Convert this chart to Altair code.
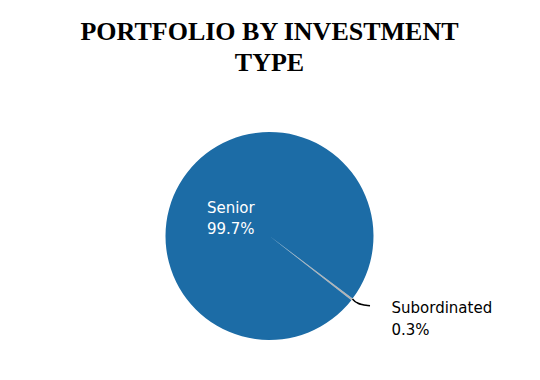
import math
import altair as alt
import pandas as pd

# ---- data ----
categories = ["Subordinated", "Senior"]
shares = [0.3, 99.7]
pct_labels = ["0.3%", "99.7%"]
slice_colors = ["#b4b4b4", "#1c6ca6"]

# leader line (annotation path, plot-area pixels)
leader_x = [344.5, 347.0, 350.0, 354.0, 358.0, 362.0]
leader_y = [191.0, 193.5, 195.2, 196.5, 197.3, 197.7]

df = pd.DataFrame({
    "category": categories,
    "value": shares,
    "pct": pct_labels,
    "order": list(range(len(categories))),
})
leader = pd.DataFrame({"x": leader_x, "y": leader_y})

W, H = 523, 256
R = 104
start = math.radians(127.0)
theta_scale = alt.Scale(domain=[0, 1], range=[start, start + 2 * math.pi])

base = alt.Chart(df).transform_joinaggregate(
    total="sum(value)"
).transform_window(
    cum="sum(value)", sort=[alt.SortField("order")]
).transform_calculate(
    t0="(datum.cum - datum.value) / datum.total",
    t1="datum.cum / datum.total",
    mid="(datum.cum - datum.value / 2) / datum.total",
    label="[datum.category, datum.pct]",
)

pie = base.mark_arc(radius=R).encode(
    theta=alt.Theta("t0:Q", scale=theta_scale),
    theta2="t1:Q",
    color=alt.Color("category:N", scale=alt.Scale(domain=categories, range=slice_colors), legend=None),
)

senior_txt = base.transform_filter(alt.datum.category == "Senior").mark_text(
    radius=31, dx=-38, dy=-9, align="left", baseline="middle", fontSize=15,
    font="DejaVu Sans", color="white", lineHeight=21,
).encode(
    theta=alt.Theta("mid:Q", scale=theta_scale),
    text="label:N",
)

sub_txt = base.transform_filter(alt.datum.category == "Subordinated").mark_text(
    radius=140, dx=11, dy=-13, align="left", baseline="middle", fontSize=15,
    font="DejaVu Sans", color="black", lineHeight=22,
).encode(
    theta=alt.Theta("mid:Q", scale=theta_scale),
    text="label:N",
)

line = alt.Chart(leader).mark_line(color="black", strokeWidth=1.6, interpolate="monotone").encode(
    x=alt.X("x:Q", scale=None, axis=None),
    y=alt.Y("y:Q", scale=None, axis=None),
)

chart = alt.layer(pie, line, senior_txt, sub_txt).properties(
    width=W,
    height=H,
    autosize=alt.AutoSizeParams(type="none"),
    padding={"left": 0, "top": 100, "right": 0, "bottom": 0},
    title=alt.TitleParams(
        ["PORTFOLIO BY INVESTMENT", "TYPE"],
        font="Liberation Serif",
        fontSize=26,
        fontWeight="bold",
        color="black",
        lineHeight=31,
        anchor="middle",
        offset=32,
    ),
).configure_view(stroke=None)

chart.save("out.html", embed_options={"renderer": "svg", "actions": False})
